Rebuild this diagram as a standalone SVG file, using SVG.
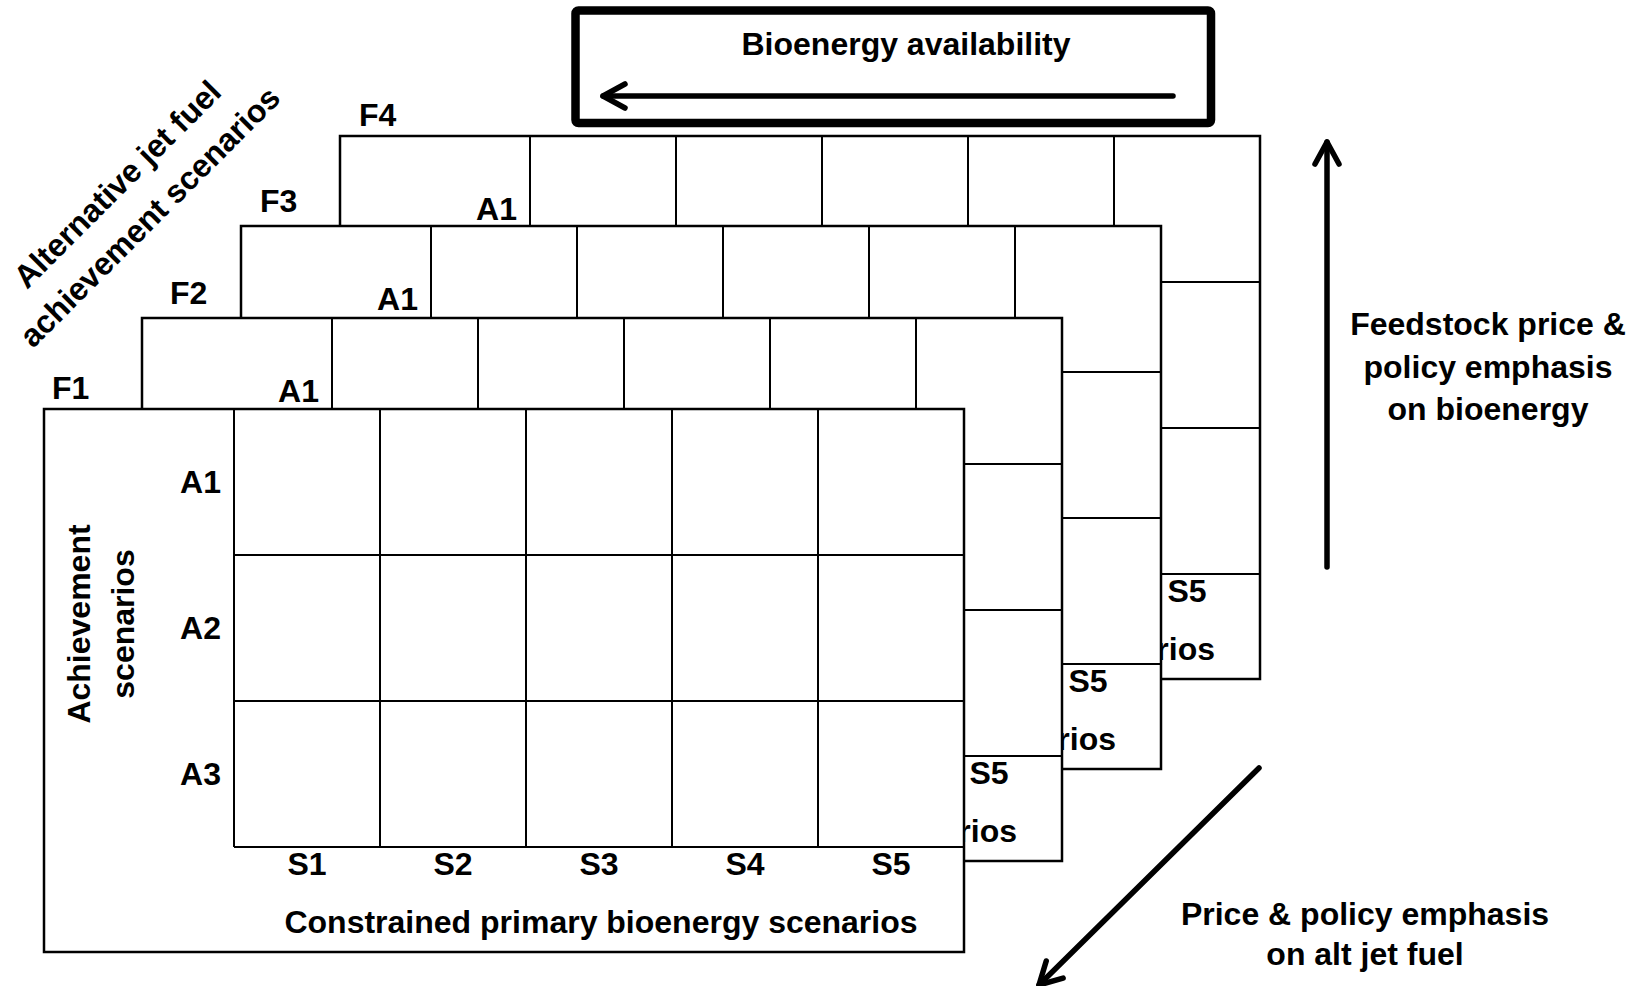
<svg xmlns="http://www.w3.org/2000/svg" width="1643" height="986" viewBox="0 0 1643 986">
<style>
text{font-family:"Liberation Sans",Arial,sans-serif;font-weight:bold;font-size:32px;fill:#000}
.outer{fill:#fff;stroke:#000;stroke-width:2.5}
.grid{fill:none;stroke:#000;stroke-width:2}
.mid{text-anchor:middle}
.end{text-anchor:end}
.arrow{fill:none;stroke:#000;stroke-width:5.5;stroke-linecap:round;marker-end:url(#chev)}
</style>
<defs>
<marker id="chev" markerUnits="userSpaceOnUse" markerWidth="60" markerHeight="60" refX="0" refY="0" orient="auto" overflow="visible">
<path d="M-22,-12 L0,0 L-22,12" fill="none" stroke="#000" stroke-width="5.5" stroke-linecap="round" stroke-linejoin="round"/>
</marker>
<path id="gridlines" d="M190,0V438M336,0V438M482,0V438M628,0V438M774,0V438M190,146H920M190,292H920M190,438H920"/>
</defs>
<rect width="1643" height="986" fill="#fff"/>

<g id="layer-F4" transform="translate(340,136)">
<rect class="outer" x="0" y="0" width="920" height="543"/>
<use href="#gridlines" class="grid"/>
<text class="end" x="177" y="84">A1</text>
<text class="mid" x="847" y="466">S5</text>
<text class="end" x="875" y="524">rios</text>
</g>

<g id="layer-F3" transform="translate(241,226)">
<rect class="outer" x="0" y="0" width="920" height="543"/>
<use href="#gridlines" class="grid"/>
<text class="end" x="177" y="84">A1</text>
<text class="mid" x="847" y="466">S5</text>
<text class="end" x="875" y="524">rios</text>
</g>

<g id="layer-F2" transform="translate(142,318)">
<rect class="outer" x="0" y="0" width="920" height="543"/>
<use href="#gridlines" class="grid"/>
<text class="end" x="177" y="84">A1</text>
<text class="mid" x="847" y="466">S5</text>
<text class="end" x="875" y="524">rios</text>
</g>

<g id="layer-F1" transform="translate(44,409)">
<rect class="outer" x="0" y="0" width="920" height="543"/>
<use href="#gridlines" class="grid"/>
<text class="end" x="177" y="84">A1</text><text class="end" x="177" y="230">A2</text><text class="end" x="177" y="376">A3</text>
<text class="mid" x="263" y="466">S1</text><text class="mid" x="409" y="466">S2</text><text class="mid" x="555" y="466">S3</text><text class="mid" x="701" y="466">S4</text><text class="mid" x="847" y="466">S5</text>
<text class="mid" x="557" y="524">Constrained primary bioenergy scenarios</text>
<text class="mid" transform="translate(46,215) rotate(-90)">Achievement</text>
<text class="mid" transform="translate(90,215) rotate(-90)">scenarios</text>
</g>

<g id="layer-labels">
<text x="52" y="399">F1</text>
<text x="170" y="304">F2</text>
<text x="260" y="212">F3</text>
<text x="359" y="126">F4</text>
</g>

<g id="axis-title">
<g transform="translate(125,192) rotate(-45)">
<text class="mid" x="0" y="0">Alternative jet fuel</text>
<text class="mid" x="0" y="46">achievement scenarios</text>
</g>
</g>

<g id="bioenergy-box">
<rect x="575.5" y="10.5" width="635.5" height="112.5" rx="3" fill="none" stroke="#000" stroke-width="8.5" stroke-linejoin="round"/>
<text class="mid" x="906" y="55">Bioenergy availability</text>
</g>

<g id="side-labels">
<text class="mid" x="1488" y="335">Feedstock price &amp;</text>
<text class="mid" x="1488" y="378">policy emphasis</text>
<text class="mid" x="1488" y="420">on bioenergy</text>
<text class="mid" x="1365" y="925">Price &amp; policy emphasis</text>
<text class="mid" x="1365" y="965">on alt jet fuel</text>
</g>

<g id="connectors">
<line class="arrow" x1="1173" y1="96" x2="603" y2="96"/>
<line class="arrow" x1="1327" y1="567" x2="1327" y2="142"/>
<line class="arrow" x1="1259" y1="768" x2="1039" y2="985"/>
</g>
</svg>
